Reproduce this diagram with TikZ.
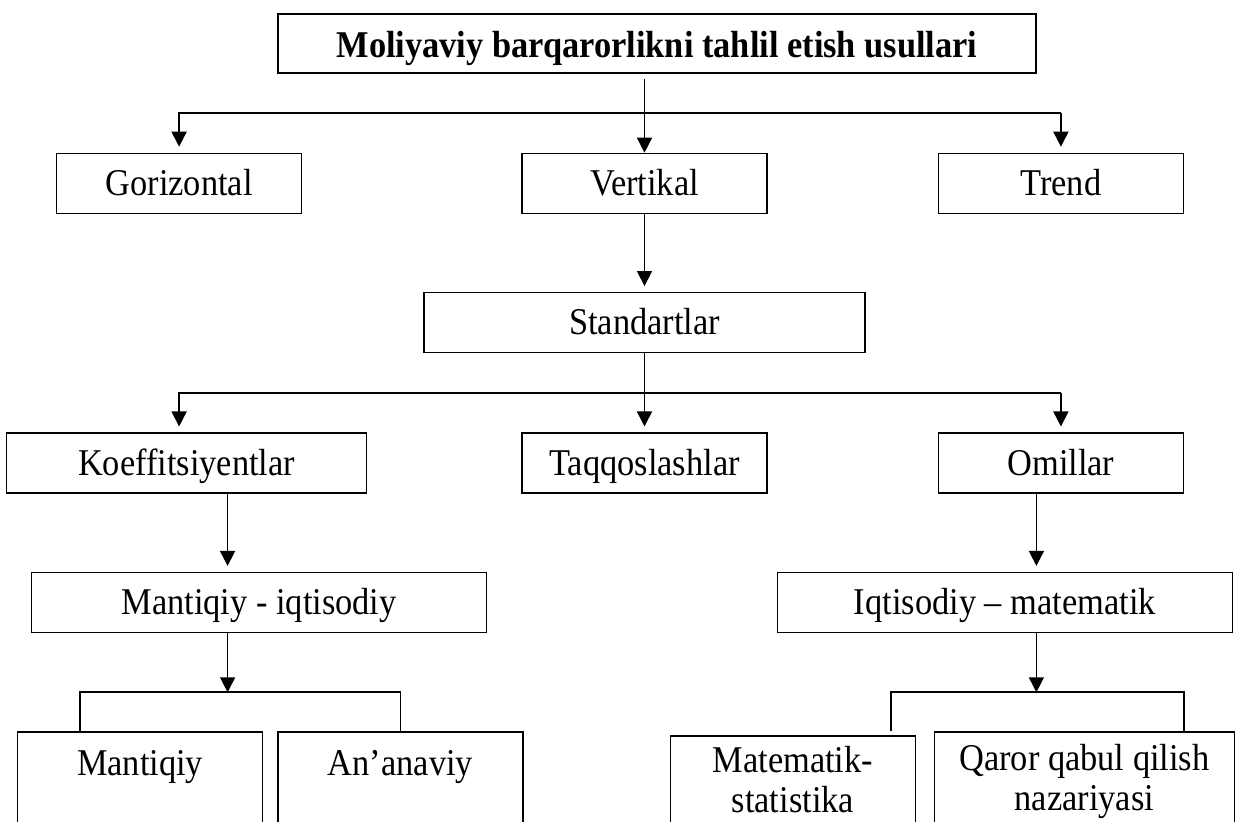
\documentclass[tikz,border=0pt]{standalone}
\usepackage{fontspec}
\setmainfont{Liberation Serif}[FakeStretch=0.91]
\usetikzlibrary{positioning,calc,arrows.meta}

\tikzset{
  box/.style={draw, line width=0.7pt, minimum width=122.5pt, minimum height=30pt, inner sep=0pt, text height=12pt, text depth=0pt},
  titlebox/.style={box, minimum width=379pt, minimum height=29.5pt, text height=14.5pt, font=\fontsize{18.9pt}{20pt}\selectfont\bfseries},
  tallbox/.style={draw, line width=0.7pt, minimum width=122.5pt, minimum height=49pt, inner sep=0pt, align=center},
  topbox/.style={draw, line width=0.7pt, minimum width=122.5pt, minimum height=49pt, inner sep=0pt, text height=22pt, text depth=27pt},
  arr/.style={-{Triangle[width=7.5pt,length=7.5pt]}, line width=0.8pt},
  conn/.style={line width=0.8pt},
}

\begin{document}
\begin{tikzpicture}[font=\fontsize{18.9pt}{20pt}\selectfont, node distance=39pt]
  \useasboundingbox (0,0) rectangle (619pt,-411pt);

  \node (title) [titlebox] at (328.5pt,-21.75pt) {Moliyaviy barqarorlikni tahlil etish usullari};

  \node (vert) [box, below=39.5pt of title, xshift=-6.25pt] {Vertikal};
  \node (hor) [box, left=109.5pt of vert] {Gorizontal};
  \node (trend) [box, right=85pt of vert] {Trend};

  \node (stand) [box, minimum width=220.5pt, below=of vert] {Standartlar};

  \node (taqq) [box, below=39.5pt of stand] {Taqqoslashlar};
  \node (koef) [box, minimum width=180pt, left=77pt of taqq] {Koeffitsiyentlar};
  \node (omil) [box, right=85pt of taqq] {Omillar};

  \node (mi) [box, minimum width=227.5pt, below=of koef, xshift=36.25pt] {Mantiqiy - iqtisodiy};
  \node (im) [box, minimum width=227.5pt, below=of omil, xshift=-28pt] {Iqtisodiy – matematik};

  \node (mant) [topbox, below=49pt of mi, xshift=-59.5pt] {Mantiqiy};
  \node (anan) [topbox, right=7pt of mant] {An’anaviy};
  \node (matem) [tallbox, minimum height=50pt, text height=38.5pt, text depth=11.5pt, below=51pt of im, xshift=-106pt] {Matematik-\\statistika};
  \node (qaror) [tallbox, minimum width=150pt, minimum height=48.5pt, text height=39.5pt, text depth=9pt, below=49pt of im, xshift=39.75pt] {Qaror qabul qilish\\nazariyasi};

  % first level
  \coordinate (b1) at ($(title.south)!0.5!(vert.north)$);
  \draw[arr] ($(title.south -| vert)+(0,-2.5pt)$) -- (vert);
  \draw[arr] (b1 -| trend) -- (b1 -| hor) -- ($(hor.north)+(0,3pt)$);
  \draw[arr] (b1 -| trend) -- ($(trend.north)+(0,3pt)$);

  \draw[arr] (vert) -- ($(stand.north)+(0,3pt)$);

  % second level
  \coordinate (b2) at ($(stand.south)!0.5!(taqq.north)$);
  \draw[arr] (stand) -- ($(taqq.north)+(0,3pt)$);
  \draw[arr] (b2 -| omil) -- (b2 -| hor) -- ($(koef.north -| hor)+(0,3pt)$);
  \draw[arr] (b2 -| omil) -- ($(omil.north)+(0,3pt)$);

  % left branch
  \coordinate (k1) at ($(koef.south)+(20.5pt,0)$);
  \draw[arr] (k1) -- ($(mi.north -| k1)+(0,3pt)$);
  \coordinate (br1) at ($(mi.south -| k1)+(0,-29.5pt)$);
  \draw[arr] (mi.south -| k1) -- (br1);
  \draw[conn] ($(mant.north west)+(31.5pt,0)$) |- (br1) -| (anan.north);

  % right branch
  \coordinate (o1) at ($(omil.south)+(-12.25pt,0)$);
  \draw[arr] (o1) -- ($(im.north -| o1)+(0,3pt)$);
  \coordinate (br2) at ($(im.south -| o1)+(0,-29.5pt)$);
  \draw[arr] (im.south -| o1) -- (br2);
  \draw[conn] ($(matem.north east)+(-12.5pt,2pt)$) |- (br2) -| (qaror.north -| omil.east);
\end{tikzpicture}
\end{document}
